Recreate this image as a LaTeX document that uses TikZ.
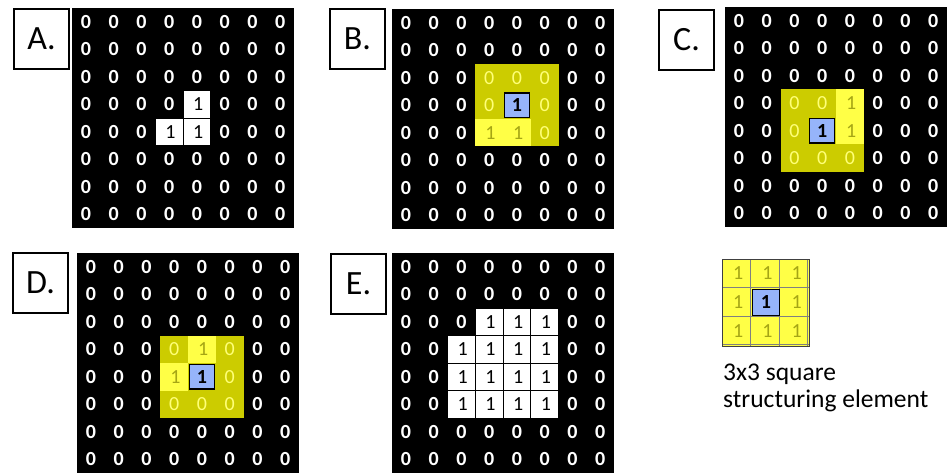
\documentclass[tikz,border=0pt]{standalone}
\usepackage{fontspec}
\setmainfont{Carlito}
\usetikzlibrary{positioning}

\definecolor{dimyel}{RGB}{204,204,0}
\definecolor{hityel}{RGB}{255,255,70}
\definecolor{paleyel}{RGB}{255,255,120}
\definecolor{hittxt}{RGB}{165,165,20}
\definecolor{seblue}{RGB}{150,180,250}

% 8x8 black image of zeros, cell (c,r) in scope units
\newcommand\zerogrid[1]{%
  \fill[black] (0,0) rectangle (8,8);
  \foreach \r in {0,...,7}
    \foreach \c in {0,...,7}
      \node[dig,text=white,font=\fontsize{20}{20}\selectfont\bfseries]
        (#1-\r-\c) at (\c+.5,\r+.5) {0};}

% 3x3 window at top-left cell (#2,#3), #4 = c/r cells that hit
\newcommand\window[4]{%
  \fill[dimyel] (#2,#3) rectangle ++(3,3);
  \foreach \dc in {0,1,2}
    \foreach \dr in {0,1,2}
      \node[dig,text=paleyel] (#1-w-\dr-\dc) at (#2+\dc+.5,#3+\dr+.5) {0};
  \foreach \c/\r in {#4} {
    \fill[hityel] (\c,\r) rectangle ++(1,1);
    \node[dig,text=hittxt] (#1-h-\r-\c) at (\c+.55,\r+.5) {1};}
  \draw[ctr] (#2+1.05,#3+1.05) rectangle ++(.9,.9);
  \node[dig,font=\fontsize{20}{20}\selectfont\bfseries] (#1-ctr) at (#2+1.5,#3+1.5) {1};}

\begin{document}
\begin{tikzpicture}[x=1pt,y=-1pt,
  dig/.style={font=\fontsize{20}{20}\selectfont,inner sep=0pt},
  lbl/.style={draw,line width=2pt,anchor=north west,inner sep=0pt,
              minimum width=55pt,minimum height=60pt,
              font=\fontsize{34}{34}\selectfont},
  onebox/.style={fill=white,draw=black,line width=0.9pt},
  ctr/.style={fill=seblue,draw=black,line width=1.3pt},
  cell/.style={x=27.75pt,y=-27.5pt}]
\useasboundingbox (0,0) rectangle (947,473);

% panel labels
\node[lbl] (la) at (13,8) {A.};
\node[lbl] (lb) at (329,8) {B.};
\node[lbl] (lc) at (658,9) {C.};
\node[lbl] (ld) at (12,252) {D.};
\node[lbl] (le) at (330,253) {E.};

% A: input image
\begin{scope}[cell,shift={(72pt,-8pt)}]
  \zerogrid{a}
  \foreach \c/\r in {4/3,3/4,4/4} {
    \draw[onebox] (\c,\r) rectangle ++(1,1);
    \node[dig] (a-one-\r-\c) at (\c+.55,\r+.5) {1};}
\end{scope}

% B, C, D: window slid over each 1
\begin{scope}[cell,shift={(392pt,-9pt)}]
  \zerogrid{b}
  \window{b}{3}{2}{3/4,4/4}
\end{scope}
\begin{scope}[cell,shift={(725pt,-7pt)}]
  \zerogrid{c}
  \window{c}{2}{3}{4/3,4/4}
\end{scope}
\begin{scope}[cell,shift={(77pt,-253pt)}]
  \zerogrid{d}
  \window{d}{3}{3}{4/3,3/4}
\end{scope}

% E: dilated result
\begin{scope}[cell,shift={(392pt,-253pt)}]
  \zerogrid{e}
  \foreach \c/\r in {3/2,4/2,5/2,2/3,3/3,4/3,5/3,2/4,3/4,4/4,5/4,2/5,3/5,4/5,5/5} {
    \draw[onebox] (\c,\r) rectangle ++(1,1);
    \node[dig] (e-one-\r-\c) at (\c+.55,\r+.5) {1};}
\end{scope}

% structuring element
\begin{scope}[x=29.3pt,y=-29pt,shift={(722pt,-259pt)}]
  \fill[hityel] (0,0) rectangle (3,3);
  \draw[gray] (0,0) grid (3,3);
  \draw[black!75,line width=1pt] (0,0) rectangle (3,3);
  \foreach \c in {0,1,2}
    \foreach \r in {0,1,2}
      \node[dig,text=hittxt] (se-\r-\c) at (\c+.55,\r+.5) {1};
  \draw[ctr] (1.04,1.04) rectangle (1.96,1.96);
  \node[dig,font=\fontsize{20}{20}\selectfont\bfseries] (se-ctr) at (1.5,1.5) {1};
  \coordinate (se-sw) at (0,3);
\end{scope}
\node[below right=18pt and 1pt of se-sw,inner sep=0pt,align=left,
      font=\fontsize{25.5}{27}\selectfont] (cap) {3x3 square\\structuring element};
\end{tikzpicture}
\end{document}
